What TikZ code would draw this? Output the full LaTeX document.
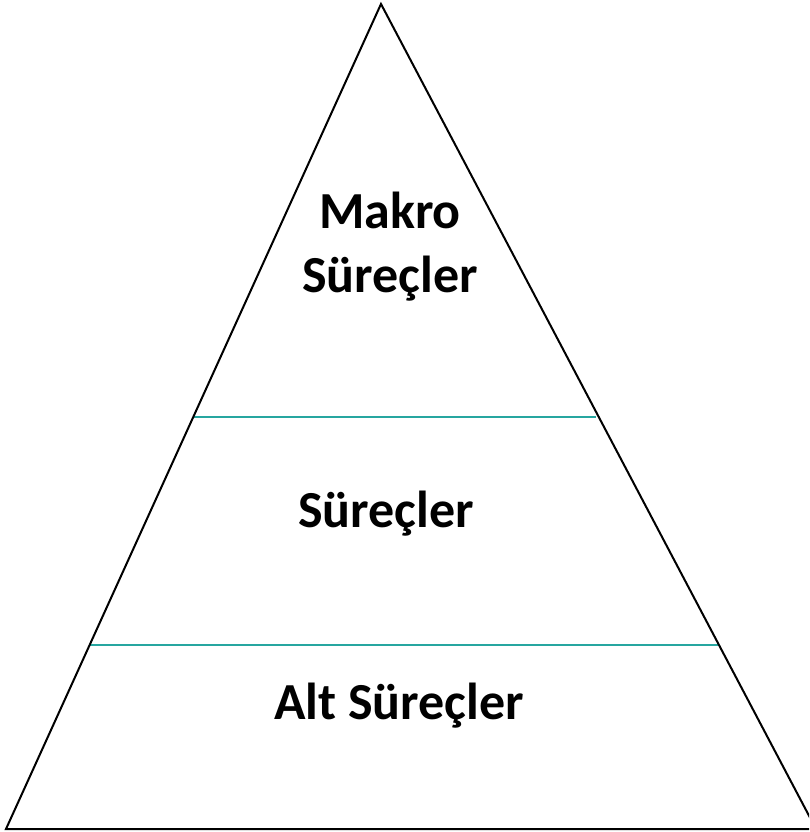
\documentclass[tikz,border=0pt]{standalone}
\usepackage{fontspec}
\setmainfont{Carlito}
\definecolor{tealline}{RGB}{38,166,160}
\begin{document}
\begin{tikzpicture}[x=1pt,y=-1pt,
  lbl/.style={font=\bfseries\fontsize{52}{64}\selectfont, align=center, inner sep=0pt},
  edge/.style={draw=black, line width=2pt, line join=miter},
  divider/.style={draw=tealline, line width=2.6pt}]
\useasboundingbox (0,0) rectangle (809,832);
\begin{scope}
\clip (0,0) rectangle (809,832);
\coordinate (apex) at (381,4);
\coordinate (bl) at (6,829);
\coordinate (br) at (816,829);
\coordinate (d1l) at (193.5,417);
\coordinate (d1r) at (596,417);
\coordinate (d2l) at (89.5,645);
\coordinate (d2r) at (719,645);
\draw[divider] (d1l) -- (d1r);
\draw[divider] (d2l) -- (d2r);
\draw[edge] (bl) -- (apex) -- (br) -- cycle;
\end{scope}
\node[lbl] (top) at (390,247) {Makro\\Süreçler};
\node[lbl] (mid) at (386,514) {Süreçler};
\node[lbl] (bot) at (399,706) {Alt Süreçler};
\end{tikzpicture}
\end{document}
